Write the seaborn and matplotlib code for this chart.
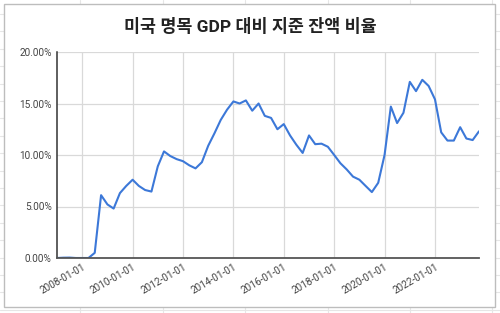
import matplotlib
matplotlib.use("Agg")
import matplotlib.pyplot as plt
import matplotlib.dates as mdates
from matplotlib.patches import Rectangle
from matplotlib.lines import Line2D
from matplotlib.ticker import FuncFormatter, MultipleLocator
import seaborn as sns
import pandas as pd

# ---- data (quarterly, % of nominal GDP) ----
dates = pd.date_range("2007-01-01", "2023-10-01", freq="QS")
ratio = [
    0.00, 0.03, 0.04, 0.00,          # 2007
    0.00, 0.00, 0.50, 6.10,          # 2008
    5.20, 4.80, 6.30, 7.00,          # 2009
    7.60, 7.00, 6.60, 6.45,          # 2010
    8.90, 10.35, 9.90, 9.60,         # 2011
    9.40, 9.00, 8.70, 9.30,          # 2012
    10.90, 12.10, 13.40, 14.40,      # 2013
    15.20, 15.00, 15.30, 14.30,      # 2014
    15.00, 13.80, 13.60, 12.50,      # 2015
    13.00, 11.90, 11.00, 10.20,      # 2016
    11.90, 11.05, 11.10, 10.80,      # 2017
    10.00, 9.20, 8.60, 7.90,         # 2018
    7.60, 7.00, 6.40, 7.30,          # 2019
    10.00, 14.70, 13.10, 14.10,      # 2020
    17.10, 16.20, 17.30, 16.70,      # 2021
    15.40, 12.20, 11.40, 11.40,      # 2022
    12.70, 11.60, 11.45, 12.30,      # 2023
]
tick_years = [2008, 2010, 2012, 2014, 2016, 2018, 2020, 2022]
title = "미국 명목 GDP 대비 지준 잔액 비율"

df = pd.DataFrame({"date": dates, "ratio": ratio})

sns.set_theme(style="white")
plt.rcParams["font.family"] = ["Roboto", "Noto Sans CJK KR", "DejaVu Sans"]

W, H = 500, 313
fig = plt.figure(figsize=(W / 100, H / 100), dpi=100)
fig.patch.set_facecolor("white")

# spreadsheet background grid
for x in [80, 163, 245, 328, 410, 492]:
    fig.add_artist(Line2D([x / W, x / W], [0, 1], color="#e6e6e6", lw=0.8,
                          transform=fig.transFigure, zorder=0))
y = 14
while y < H:
    fig.add_artist(Line2D([0, 1], [1 - y / H, 1 - y / H], color="#e6e6e6", lw=0.8,
                          transform=fig.transFigure, zorder=0))
    y += 17.4

# chart box
fig.add_artist(Rectangle((4 / W, 1 - 307 / H), (495 - 4) / W, (307 - 4) / H,
                         transform=fig.transFigure, facecolor="white",
                         edgecolor="#bdbdbd", lw=1.0, zorder=1))

left, right, top, bottom = 57, 479, 52, 258
ax = fig.add_axes([left / W, 1 - bottom / H, (right - left) / W, (bottom - top) / H])
ax.set_zorder(2)
ax.patch.set_alpha(0)

sns.lineplot(data=df, x="date", y="ratio", ax=ax, color="#3c78d8", lw=1.5)

ax.set_xlim(pd.Timestamp("2007-01-01"), pd.Timestamp("2023-10-01"))
ax.set_ylim(0, 20)
ax.yaxis.set_major_locator(MultipleLocator(5))
ax.yaxis.set_major_formatter(FuncFormatter(lambda v, p: f"{v:.2f}%"))
ax.set_xticks([pd.Timestamp(f"{y}-01-01") for y in tick_years])
ax.xaxis.set_major_formatter(mdates.DateFormatter("%Y-%m-%d"))

ax.grid(True, color="#d9d9d9", lw=0.9)
ax.set_axisbelow(True)
for s in ["top", "right"]:
    ax.spines[s].set_visible(False)
ax.spines["left"].set_color("#333333")
ax.spines["bottom"].set_color("#555555")
ax.spines["left"].set_linewidth(1.1)
ax.spines["bottom"].set_linewidth(1.3)
ax.tick_params(axis="both", length=0, labelsize=7.2, labelcolor="#444444")
ax.tick_params(axis="y", pad=4)
ax.tick_params(axis="x", pad=3)
for lab in ax.get_xticklabels():
    lab.set_rotation(30)
    lab.set_ha("right")
    lab.set_rotation_mode("anchor")
ax.set_xlabel("")
ax.set_ylabel("")

fig.text(0.5, 1 - 27 / H, title, ha="center", va="center", fontsize=12.5,
         fontweight="bold", color="#222222", zorder=3)

fig.savefig("out.png", dpi=100, facecolor="white")
